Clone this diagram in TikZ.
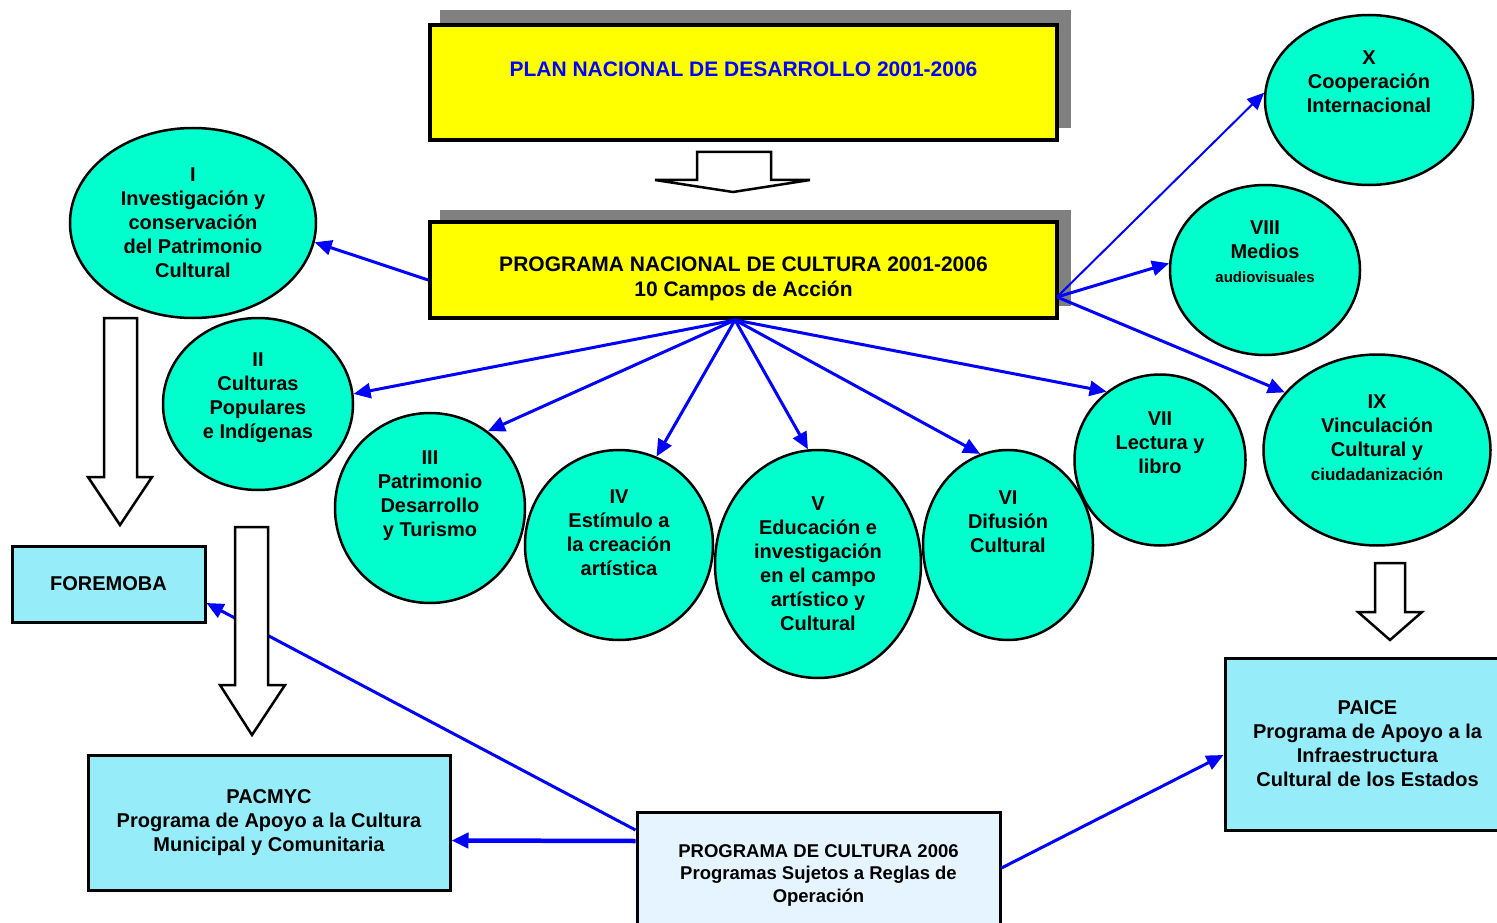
\documentclass[tikz,border=0pt]{standalone}
\usepackage{fontspec}
\setmainfont{Liberation Sans}
\usepackage{xcolor}
\usepackage{tikz}
\usetikzlibrary{arrows.meta,shapes.geometric}

\definecolor{amarillo}{RGB}{255,255,0}
\definecolor{aguamarina}{RGB}{0,255,204}
\definecolor{celeste}{RGB}{150,236,248}
\definecolor{celestito}{RGB}{230,244,255}
\definecolor{azul}{RGB}{0,0,255}
\definecolor{sombra}{RGB}{128,128,128}

\tikzset{
    campo/.style={ellipse, draw=black, line width=2.5pt, fill=aguamarina, inner sep=0pt},
    rotulo/.style={align=center, inner sep=0pt, font=\bfseries\fontsize{20}{24}\selectfont},
    titulo/.style={align=center, inner sep=0pt, font=\bfseries\fontsize{21}{25}\selectfont},
    marco/.style={draw=black, line width=3.5pt, fill=amarillo, inner sep=0pt},
    caja/.style={draw=black, line width=3pt, fill=celeste, inner sep=0pt, align=center,
        font=\bfseries\fontsize{20}{24}\selectfont},
    flecha/.style={draw=azul, line width=3pt, -{Triangle[length=17pt,width=15pt]}},
    hueca/.style={draw=black, line width=2.5pt, fill=white, line join=miter},
}

\begin{document}
\begin{tikzpicture}[x=1pt, y=-1pt]
    \clip (0,0) rectangle (1497,923);
    \fill[white] (0,0) rectangle (1497,923);

    \fill[sombra] (440,10) rectangle (1071,128);
    \fill[sombra] (440,210) rectangle (1071,306);
    \node[marco, minimum width=627, minimum height=115] (pnd) at (743.5,82.5) {};
    \node[titulo, text=azul] (pndtxt) at (743.5,69) {PLAN NACIONAL DE DESARROLLO 2001-2006};
    \node[marco, minimum width=627, minimum height=96] (pnc) at (743.5,270) {};
    \node[titulo] (pnctxt) at (743.5,279) {PROGRAMA NACIONAL DE CULTURA 2001-2006\\10 Campos de Acción};

    \node[campo, minimum width=246, minimum height=190] (c1) at (193,223) {};
    \node[campo, minimum width=190, minimum height=172] (c2) at (258,404) {};
    \node[campo, minimum width=190, minimum height=190] (c3) at (430,508) {};
    \node[campo, minimum width=188, minimum height=190] (c4) at (619,545) {};
    \node[campo, minimum width=206, minimum height=228] (c5) at (818,564) {};
    \node[campo, minimum width=170, minimum height=190] (c6) at (1008,545) {};
    \node[campo, minimum width=171, minimum height=171] (c7) at (1160,460) {};
    \node[campo, minimum width=190, minimum height=170] (c8) at (1265,270) {};
    \node[campo, minimum width=227, minimum height=191] (c9) at (1377,450) {};
    \node[campo, minimum width=208, minimum height=170] (c10) at (1369,100) {};

    \node[rotulo] (t1) at (193,223) {I\\Investigación y\\conservación\\del Patrimonio\\Cultural};
    \node[rotulo] (t2) at (258,398) {II\\Culturas\\Populares\\e Indígenas};
    \node[rotulo] (t3) at (430,496) {III\\Patrimonio\\Desarrollo\\y Turismo};
    \node[rotulo] (t4) at (619,533) {IV\\Estímulo a\\la creación\\artística};
    \node[rotulo] (t5) at (818,564) {V\\Educación e\\investigación\\en el campo\\artístico y\\Cultural};
    \node[rotulo] (t6) at (1008,522) {VI\\Difusión\\Cultural};
    \node[rotulo] (t7) at (1160,443) {VII\\Lectura y\\libro};
    \node[rotulo] (t8) at (1265,252) {VIII\\Medios\\{\fontsize{15}{22}\selectfont audiovisuales}};
    \node[rotulo] (t9) at (1377,438) {IX\\Vinculación\\Cultural y\\{\fontsize{17}{22}\selectfont ciudadanización}};
    \node[rotulo] (t10) at (1369,82) {X\\Cooperación\\Internacional};

    \node[caja, minimum width=193, minimum height=76] (foremoba) at (108.5,584) {FOREMOBA};
    \node[caja, minimum width=362, minimum height=135] (pacmyc) at (269,822.5)
        {PACMYC\\Programa de Apoyo a la Cultura\\Municipal y Comunitaria};
    \node[caja, minimum width=285, minimum height=172] (paice) at (1367.5,744)
        {PAICE\\Programa de Apoyo a la\\Infraestructura\\Cultural de los Estados};
    \node[caja, fill=celestito, minimum width=363, minimum height=126,
        font=\bfseries\fontsize{18.5}{22.5}\selectfont] (p06) at (818.5,875)
        {PROGRAMA DE CULTURA 2006\\Programas Sujetos a Reglas de\\Operación};

    \coordinate (abanico) at (735,320);
    \coordinate (derecha) at (1057,297);
    \draw[flecha] ([yshift=-10pt]pnc.west) -- (c1.-9);
    \draw[flecha] (abanico) -- (c2.6);
    \draw[flecha] (abanico) -- (c3.53);
    \draw[flecha] (abanico) -- (c4.67);
    \draw[flecha] (abanico) -- (c5.95);
    \draw[flecha] (abanico) -- (c6.107);
    \draw[flecha] (abanico) -- (c7.128);
    \draw[flecha, line width=2pt] (derecha) -- (c10.176);
    \draw[flecha] (derecha) -- (c8.176);
    \draw[flecha] (derecha) -- (c9.148);
    \draw[flecha] ([yshift=45pt]p06.west) -- ([yshift=-19pt]foremoba.east);
    \draw[flecha, line width=4.5pt] ([yshift=34pt]p06.west) -- ([yshift=-18pt]pacmyc.east);
    \draw[flecha] ([yshift=7pt]p06.east) -- ([yshift=-11pt]paice.west);

    \draw[hueca] (697,152) -- (771,152) -- (771,180) -- (810,180) -- (733,192) -- (655,180) -- (697,180) -- cycle;
    \draw[hueca] (104,318) -- (137,318) -- (137,477) -- (152,477) -- (120,525) -- (88,477) -- (104,477) -- cycle;
    \draw[hueca] (235,527) -- (268,527) -- (268,685) -- (285,685) -- (252,735) -- (220,685) -- (235,685) -- cycle;
    \draw[hueca] (1375,563) -- (1405,563) -- (1405,612) -- (1422,612) -- (1390,640) -- (1358,612) -- (1375,612) -- cycle;
\end{tikzpicture}
\end{document}
